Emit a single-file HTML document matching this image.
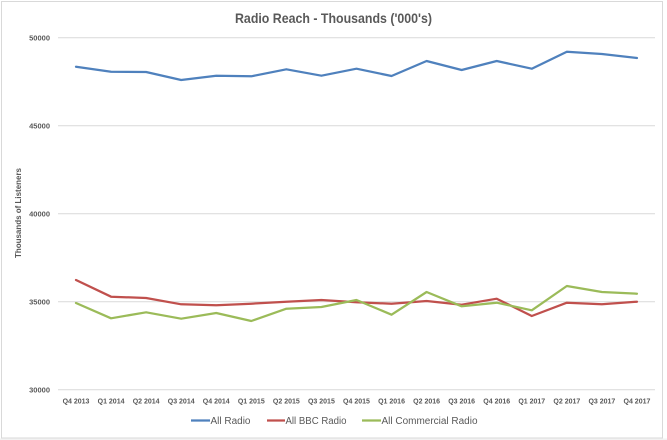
<!DOCTYPE html>
<html><head><meta charset="utf-8"><style>
html,body{margin:0;padding:0;background:#fff;}
svg{display:block;}
text{font-family:"Liberation Sans",Arial,sans-serif;fill:#595959;}
</style></head><body>
<svg width="667" height="440" viewBox="0 0 667 440" xmlns="http://www.w3.org/2000/svg">
<rect x="0" y="0" width="667" height="440" fill="#ffffff"/>
<rect x="0" y="438.5" width="667" height="2" fill="#f2f2f2"/>
<rect x="1.5" y="1.5" width="661" height="436.5" fill="#fff" stroke="#d9d9d9" stroke-width="1"/>
<text x="333.5" y="23" font-size="14" font-weight="bold" text-anchor="middle" textLength="197" lengthAdjust="spacingAndGlyphs">Radio Reach - Thousands ('000's)</text>
<g stroke="#d9d9d9" stroke-width="1">
<line x1="58" y1="37.7" x2="655" y2="37.7"/>
<line x1="58" y1="125.7" x2="655" y2="125.7"/>
<line x1="58" y1="213.7" x2="655" y2="213.7"/>
<line x1="58" y1="301.7" x2="655" y2="301.7"/>
<line x1="58" y1="389.7" x2="655" y2="389.7"/>
</g>
<g font-size="7.5" font-weight="bold" text-anchor="end">
<text x="50" y="40.5">50000</text>
<text x="50" y="128.5">45000</text>
<text x="50" y="216.5">40000</text>
<text x="50" y="304.5">35000</text>
<text x="50" y="392.5">30000</text>
</g>
<text transform="translate(21,213) rotate(-90)" font-size="8" font-weight="bold" text-anchor="middle" textLength="90" lengthAdjust="spacingAndGlyphs">Thousands of Listeners</text>
<g font-size="7" font-weight="bold" text-anchor="middle">
<text x="76" y="403.5">Q4 2013</text>
<text x="111.06" y="403.5">Q1 2014</text>
<text x="146.12" y="403.5">Q2 2014</text>
<text x="181.18" y="403.5">Q3 2014</text>
<text x="216.24" y="403.5">Q4 2014</text>
<text x="251.3" y="403.5">Q1 2015</text>
<text x="286.36" y="403.5">Q2 2015</text>
<text x="321.42" y="403.5">Q3 2015</text>
<text x="356.48" y="403.5">Q4 2015</text>
<text x="391.54" y="403.5">Q1 2016</text>
<text x="426.6" y="403.5">Q2 2016</text>
<text x="461.66" y="403.5">Q3 2016</text>
<text x="496.72" y="403.5">Q4 2016</text>
<text x="531.78" y="403.5">Q1 2017</text>
<text x="566.84" y="403.5">Q2 2017</text>
<text x="601.9" y="403.5">Q3 2017</text>
<text x="636.96" y="403.5">Q4 2017</text>
</g>
<g fill="none" stroke-width="2.25" stroke-linejoin="round" stroke-linecap="round">
<polyline stroke="#4F81BD" points="76,66.7 111.06,71.7 146.12,72 181.18,80 216.24,75.7 251.3,76.3 286.36,69.3 321.42,75.7 356.48,68.7 391.54,76 426.6,61 461.66,70 496.72,61 531.78,68.7 566.84,51.7 601.9,54 636.96,58"/>
<polyline stroke="#C0504D" points="76,280 111.06,296.7 146.12,298 181.18,304.3 216.24,305.3 251.3,303.7 286.36,301.7 321.42,300 356.48,302.3 391.54,303.7 426.6,301 461.66,304.7 496.72,298.7 531.78,316 566.84,302.7 601.9,304.3 636.96,301.7"/>
<polyline stroke="#9BBB59" points="76,303 111.06,318.3 146.12,312.3 181.18,318.7 216.24,313 251.3,321 286.36,308.7 321.42,307 356.48,300 391.54,314.7 426.6,292 461.66,306.3 496.72,302.7 531.78,310.3 566.84,286 601.9,292 636.96,293.7"/>
</g>
<g stroke-width="2.25">
<line x1="191" y1="420.5" x2="210" y2="420.5" stroke="#4F81BD"/>
<line x1="267" y1="420.5" x2="285" y2="420.5" stroke="#C0504D"/>
<line x1="362" y1="420.5" x2="381" y2="420.5" stroke="#9BBB59"/>
</g>
<g font-size="10">
<text x="210.5" y="424" textLength="40" lengthAdjust="spacingAndGlyphs">All Radio</text>
<text x="285.5" y="424" textLength="61" lengthAdjust="spacingAndGlyphs">All BBC Radio</text>
<text x="381.5" y="424" textLength="96" lengthAdjust="spacingAndGlyphs">All Commercial Radio</text>
</g>
</svg>
</body></html>
